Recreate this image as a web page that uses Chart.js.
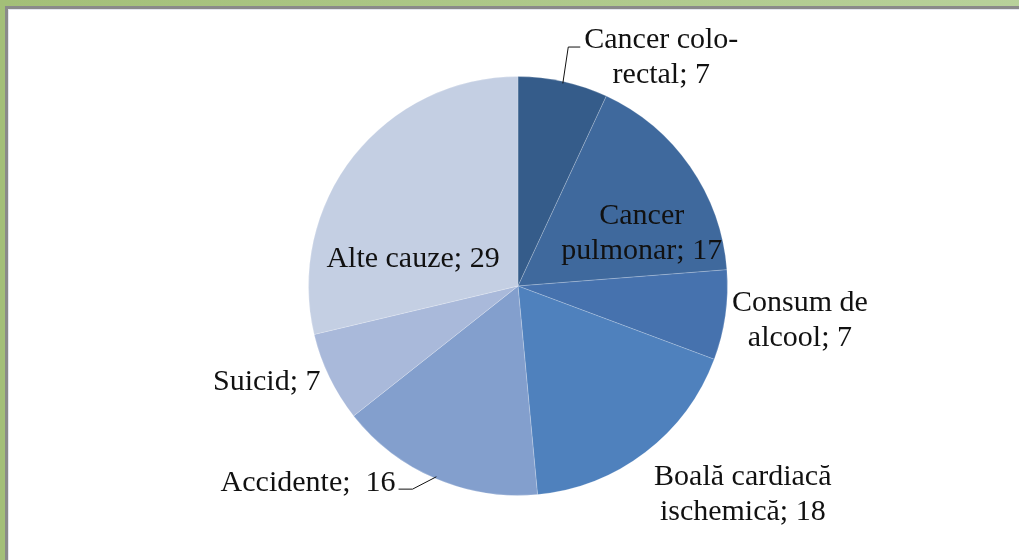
<!DOCTYPE html>
<html>
<head>
<meta charset="utf-8">
<script src="https://cdn.jsdelivr.net/npm/chart.js@4.4.0/dist/chart.umd.min.js"></script>
<style>
  html, body { margin: 0; padding: 0; background: #fff; }
  body { width: 1019px; height: 560px; position: relative; overflow: hidden; }
  .frame {
    position: absolute; left: 0; top: 0; right: -20px; bottom: -20px;
    border-top: 6px solid; border-left: 5px solid;
    border-image: linear-gradient(90deg, #a3bf78, #b8d19b) 1;
  }
  .inner {
    position: absolute; left: 5px; top: 6px; right: -20px; bottom: -20px;
    border-top: 3px solid #8a8a8a; border-left: 3px solid #8a8a8a;
    box-shadow: inset 1px 1px 0 #e4e6ee;
  }
  #chart { position: absolute; left: 0; top: 0; }
</style>
</head>
<body>
<div class="frame"></div>
<div class="inner"></div>
<canvas id="chart" width="1019" height="560"></canvas>
<script>
const categories = [
  ['Cancer colo-', 'rectal; 7'],
  ['Cancer', 'pulmonar; 17'],
  ['Consum de', 'alcool; 7'],
  ['Boală cardiacă', 'ischemică; 18'],
  ['Accidente;  16'],
  ['Suicid; 7'],
  ['Alte cauze; 29']
];
const values = [7, 17, 7, 18, 16, 7, 29];
const colors = ['#355c8a', '#3f699d', '#4672ae', '#4f81bd', '#839fcd', '#a9b9da', '#c4cfe3'];

// label placement: radial factor along slice middle + nudge, leader line type
const placement = [
  { f: 1.2, dx: 89, dy: 17, leader: 'top' },
  { f: 0.62, dx: 17, dy: 22 },
  { f: 1.2, dx: 33, dy: 0 },
  { f: 1.2, dx: 72, dy: 9 },
  { f: 1.2, dx: -111, dy: -34, leader: 'left' },
  { f: 1.2, dx: -25, dy: -13 },
  { f: 0.45, dx: -31, dy: 32 }
];

const LINE_H = 35;
const FONT = '30px "Liberation Serif", "Times New Roman", serif';

const labelPlugin = {
  id: 'sliceLabels',
  afterDatasetsDraw(chart) {
    const ctx = chart.ctx;
    const arcs = chart.getDatasetMeta(0).data;
    ctx.save();
    ctx.font = FONT;
    ctx.fillStyle = '#111';
    ctx.textAlign = 'center';
    ctx.textBaseline = 'middle';
    arcs.forEach((arc, i) => {
      const p = placement[i];
      const mid = (arc.startAngle + arc.endAngle) / 2;
      const r = arc.outerRadius;
      const cx = arc.x + Math.cos(mid) * r * p.f + p.dx;
      const cy = arc.y + Math.sin(mid) * r * p.f + p.dy;
      const lines = categories[i];
      const top = cy - (lines.length - 1) * LINE_H / 2;
      lines.forEach((t, k) => ctx.fillText(t, cx, top + k * LINE_H));

      if (p.leader) {
        const ex = arc.x + Math.cos(mid) * (r - 2);
        const ey = arc.y + Math.sin(mid) * (r - 2);
        ctx.beginPath();
        ctx.strokeStyle = '#111';
        ctx.lineWidth = 1;
        if (p.leader === 'top') {
          const left = cx - ctx.measureText(lines[0]).width / 2;
          const ly = top + 7;
          ctx.moveTo(ex, ey);
          ctx.lineTo(left - 16, ly);
          ctx.lineTo(left - 4, ly);
        } else {
          const right = cx + ctx.measureText(lines[0]).width / 2;
          const ly = cy + 6;
          ctx.moveTo(right + 3, ly);
          ctx.lineTo(right + 17, ly);
          ctx.lineTo(ex, ey);
        }
        ctx.stroke();
      }
    });
    ctx.restore();
  }
};

new Chart(document.getElementById('chart'), {
  type: 'pie',
  data: {
    labels: categories.map(l => l.join(' ')),
    datasets: [{
      data: values,
      backgroundColor: colors,
      borderColor: 'rgba(255,255,255,0.2)',
      borderWidth: 1
    }]
  },
  options: {
    responsive: false,
    animation: false,
    layout: { padding: { left: 308, right: 291, top: 76, bottom: 64 } },
    plugins: {
      legend: { display: false },
      tooltip: { enabled: false }
    }
  },
  plugins: [labelPlugin]
});
</script>
</body>
</html>
